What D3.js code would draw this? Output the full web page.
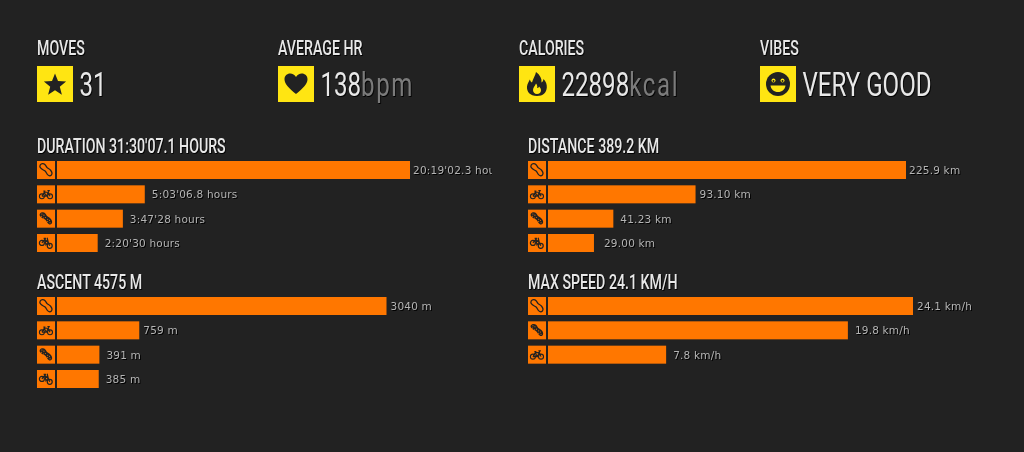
<!DOCTYPE html>
<html>
<head>
<meta charset="utf-8">
<script src="https://cdnjs.cloudflare.com/ajax/libs/d3/7.8.5/d3.min.js"></script>
<style>
html, body { margin: 0; padding: 0; background: #222222; overflow: hidden; }
.head { font-family: Roboto, sans-serif; font-weight: 500; fill: #e8e8e8; filter: drop-shadow(1px 1px 0 #000); }
.unit { fill: #7b7b7b; letter-spacing: 2.2px; }
.val { font-family: "DejaVu Sans", sans-serif; font-size: 10.5px; fill: #b4b4b4; letter-spacing: 0.2px; filter: drop-shadow(1px 1px 0 #000); }
</style>
</head>
<body>
<svg id="viz"></svg>
<script>
var width = 1024;
var height = 452;

// summary row
var statTitles = ["MOVES", "AVERAGE HR", "CALORIES", "VIBES"];
var statValues = ["31", "138", "22898", "VERY GOOD"];
var statUnits = ["", "bpm", "kcal", ""];
var statIcons = ["star", "heart", "flame", "smile"];

// bar panels
var durationTitle = "DURATION 31:30'07.1 HOURS";
var durationValues = [73142.3, 18186.8, 13648, 8430];
var durationLabels = ["20:19'02.3 hours", "5:03'06.8 hours", "3:47'28 hours", "2:20'30 hours"];
var durationIcons = ["shoe", "bike", "boot", "mtb"];

var distanceTitle = "DISTANCE 389.2 KM";
var distanceValues = [225.9, 93.10, 41.23, 29.00];
var distanceLabels = ["225.9 km", "93.10 km", "41.23 km", "29.00 km"];
var distanceIcons = ["shoe", "bike", "boot", "mtb"];

var ascentTitle = "ASCENT 4575 M";
var ascentValues = [3040, 759, 391, 385];
var ascentLabels = ["3040 m", "759 m", "391 m", "385 m"];
var ascentIcons = ["shoe", "bike", "boot", "mtb"];

var speedTitle = "MAX SPEED 24.1 KM/H";
var speedValues = [24.1, 19.8, 7.8];
var speedLabels = ["24.1 km/h", "19.8 km/h", "7.8 km/h"];
var speedIcons = ["shoe", "boot", "bike"];

var svg = d3.select("#viz")
    .attr("width", width)
    .attr("height", height)
    .style("display", "block");

var squeeze = 0.71;
var valueSqueeze = 0.73;
var yellow = "#ffe512";
var orange = "#ff7700";

// icons are drawn in a 24x24 box
function drawIcon(g, name, color, back) {
    if (name == "star") {
        g.append("path").attr("fill", color).attr("d", "M12 1.5l3 7.6 8.1.5-6.3 5.2 2.1 7.900L12 18.300l-6.900 4.400 2.100-7.900L.9 9.600 9 9.100z");
    } else if (name == "heart") {
        g.append("path").attr("fill", color).attr("d", "M12 22C5 16 .5 12 .5 7.200.5 3.800 3 1.500 6.200 1.500c2.400 0 4.500 1.300 5.800 3.500 1.300-2.200 3.400-3.500 5.800-3.500 3.200 0 5.700 2.300 5.700 5.700C23.500 12 19 16 12 22z");
    } else if (name == "flame") {
        g.append("path").attr("fill", color).attr("d", "M12 24C5 24 1.500 19.500 2 14.500c.3-3 2-5 2.800-7 .6 1.500 1.200 2.500 2.200 3C8 6.500 10.500 3.500 11 0c4 3 6 6.500 5.500 10.500 1-.5 1.800-1.800 2-3.500 2.500 2.500 3.500 5.500 3.300 8.500C21.500 20.500 18 24 12 24z");
        g.append("path").attr("fill", back).attr("d", "M12 22c-2.500 0-4-1.800-4-4 0-2.500 2-3.800 3-6.500 1.200 1.500 1.500 2.800 1.200 4.500 .8 0 1.400-.6 1.900-1.600 1.200 1.200 1.900 2.300 1.900 3.800 0 2.200-1.500 3.800-4 3.800z");
    } else if (name == "smile") {
        g.append("circle").attr("fill", color).attr("cx", 12).attr("cy", 12).attr("r", 12);
        [7.500, 16.500].forEach(function (cx) {
            g.append("circle").attr("cx", cx).attr("cy", 8.500).attr("r", 2).attr("fill", back);
            g.append("circle").attr("cx", cx).attr("cy", 9).attr("r", 1).attr("fill", color);
        });
        g.append("path").attr("d", "M4.500 13.500h15c-.5 4-3.500 6.500-7.500 6.500s-7-2.500-7.500-6.500z").attr("fill", back);
    } else if (name == "shoe") {
        g.append("path").attr("fill", "none").attr("stroke", color).attr("stroke-width", 2.200)
            .attr("d", "M2 3.500C4 .5 8 .5 10.500 3c1.500 1.500 2 3.500 3.500 5 1.500 1.500 4 2 6 4.500 2.500 3 3 6.500 1 8.500s-5 1-7-2c-1.500-2-2-4-4-5.500-2-1.500-5-2-6.800-4.500C1.200 7.500 1 5.500 2 3.500z");
    } else if (name == "boot") {
        g.append("path").attr("fill", color)
            .attr("d", "M1.500 3.500C4 .5 8.500 .5 11 3c1.500 1.500 2 3.500 3.500 5 1.500 1.500 4 2 6 4.500 2.500 3 3 6.500 1 8.500s-5 1-7-2c-1.500-2-2-4-4-5.500-2-1.500-5-2-7-4.500C1 7.500 .5 5.500 1.500 3.500z");
        // cleats
        [[5, 4], [8.500, 6], [4.500, 8], [11, 10], [8, 11], [15, 13], [18, 15], [15, 17], [19, 19]].forEach(function (c) {
            g.append("circle").attr("cx", c[0]).attr("cy", c[1]).attr("r", 0.9).attr("fill", back);
        });
    } else if (name == "bike") {
        var b = g.append("g").attr("fill", "none").attr("stroke", color).attr("stroke-width", 1.900);
        b.append("circle").attr("cx", 5).attr("cy", 15.500).attr("r", 4.300);
        b.append("circle").attr("cx", 19).attr("cy", 15.500).attr("r", 4.300);
        b.append("path").attr("d", "M5 15.500L9 8.500h7l3 7M9 8.500l3.500 7H5M12.500 15.500L16 8.500M7.500 6.500h3.500M14.500 5.500h3l-1.500 3");
    } else if (name == "mtb") {
        var m = g.append("g").attr("fill", "none").attr("stroke", color).attr("stroke-width", 2.100);
        m.append("circle").attr("cx", 5).attr("cy", 12).attr("r", 4.300);
        m.append("circle").attr("cx", 18.500).attr("cy", 17).attr("r", 4.300);
        m.append("path").attr("d", "M5 12L10 6l6 5 2.500 6M10 6l2 9 4-4M8 4h4M14 3l2 8");
    }
}

// top stats
var statX = d3.scalePoint().domain(statTitles).range([37, 760]);

var stats = svg.selectAll("g.stat")
    .data(statTitles)
    .enter().append("g")
    .attr("class", "stat")
    .attr("transform", function (d) { return "translate(" + statX(d) + ",0)"; });

stats.append("text")
    .attr("class", "head")
    .attr("font-size", 20)
    .attr("transform", "translate(0,55) scale(" + squeeze + ",1)")
    .text(function (d) { return d; });

stats.append("rect")
    .attr("y", 66)
    .attr("width", 36)
    .attr("height", 36)
    .attr("fill", yellow);

stats.each(function (d, i) {
    var g = d3.select(this).append("g").attr("transform", "translate(6,72)");
    drawIcon(g, statIcons[i], "#222222", yellow);
    var t = d3.select(this).append("text")
        .attr("class", "head")
        .attr("font-size", 33)
        .style("font-weight", 400)
        .attr("transform", "translate(42.500,96) scale(" + valueSqueeze + ",1)");
    t.append("tspan").text(statValues[i]);
    if (statUnits[i]) t.append("tspan").attr("class", "unit").text(statUnits[i]);
});

// bar panels
var rowScale = d3.scaleBand().domain([0, 1, 2, 3]).range([0, 91]).paddingInner(0.26);

function drawPanel(x, top, title, values, labels, icons, barMax, gaps, clipW) {
    var panel = svg.append("g").attr("transform", "translate(" + x + "," + top + ")");

    var xScale = d3.scaleLinear().domain([0, d3.max(values)]).range([0, barMax]);

    panel.append("text")
        .attr("class", "head")
        .attr("font-size", 20)
        .attr("transform", "translate(0,-8) scale(" + squeeze + ",1)")
        .text(title);

    var clipId = "clip" + x + "-" + top;
    panel.append("clipPath").attr("id", clipId)
        .append("rect").attr("x", 0).attr("y", -2).attr("width", clipW).attr("height", 110);

    var rows = panel.selectAll("g.row")
        .data(values)
        .enter().append("g")
        .attr("class", "row")
        .attr("clip-path", "url(#" + clipId + ")");

    rows.append("rect")
        .attr("y", function (d, i) { return rowScale(i); })
        .attr("width", 18)
        .attr("height", rowScale.bandwidth())
        .attr("fill", orange);

    rows.each(function (d, i) {
        var g = d3.select(this).append("g")
            .attr("transform", "translate(2," + (rowScale(i) + 2) + ") scale(0.58)");
        drawIcon(g, icons[i], "#222222", orange);
    });

    rows.append("rect")
        .attr("x", 20)
        .attr("y", function (d, i) { return rowScale(i); })
        .attr("width", function (d) { return xScale(d); })
        .attr("height", rowScale.bandwidth())
        .attr("fill", orange);

    rows.append("text")
        .attr("class", "val")
        .attr("x", function (d, i) { return 20 + xScale(d) + gaps[i]; })
        .attr("y", function (d, i) { return rowScale(i) + 13; })
        .text(function (d, i) { return labels[i]; });
}

drawPanel(37, 161, durationTitle, durationValues, durationLabels, durationIcons, 353, [3, 7, 7, 7], 455);
drawPanel(528, 161, distanceTitle, distanceValues, distanceLabels, distanceIcons, 358, [3, 4, 7, 10], 455);
drawPanel(37, 297, ascentTitle, ascentValues, ascentLabels, ascentIcons, 329.500, [4, 4, 7, 7], 455);
drawPanel(528, 297, speedTitle, speedValues, speedLabels, speedIcons, 365, [4, 7, 7], 455);
</script>
</body>
</html>
